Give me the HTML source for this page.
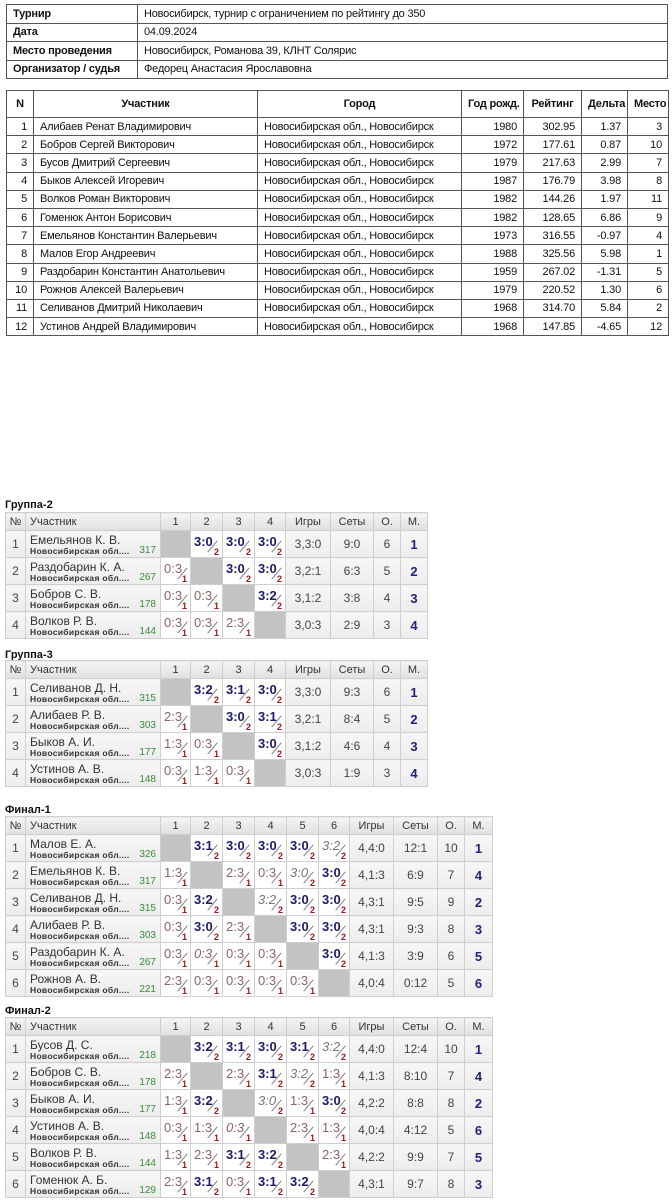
<!DOCTYPE html>
<html><head><meta charset="utf-8">
<style>
*{margin:0;padding:0;box-sizing:border-box}
body{width:672px;height:1200px;background:#fff;position:relative;font-family:"Liberation Sans",Arial,sans-serif;overflow:hidden}
table{border-collapse:collapse;table-layout:fixed;position:absolute}
.t td{border:1px solid #555;font-size:11px;color:#111;padding:0 6px;white-space:nowrap;overflow:hidden;letter-spacing:-0.2px}
.info td{height:18.5px}
.info td:first-child{font-weight:bold}
.main td{height:18.2px}
.main tr.h td{height:27px;font-weight:bold;text-align:center}
.main td.r{text-align:right}
.lbl{position:absolute;left:5px;font:bold 11px "Liberation Sans",sans-serif;color:#111}
.g td{border:1px solid #cfcfcf;height:27px;font-size:12px;color:#444;text-align:center;background:linear-gradient(#f7f7f7,#ececec);position:relative;white-space:nowrap}
.g tr.h td{height:18px;font-size:11px;color:#333;background:linear-gradient(#f4f4f4,#e0e0e0)}
.g tr.h td.u{text-align:left;padding-left:4px}
.g td.m{font-weight:bold;color:#22227a;font-size:13px}
.g td.x{background:#c3c3c3}
.g td.n{text-align:left}
.n div{position:absolute;left:4px;top:2px;font-size:12px;color:#333}
.n span{position:absolute;left:4px;bottom:1px;font-size:8.5px;font-weight:bold;color:#333;letter-spacing:0.3px}
.n em{position:absolute;right:4px;bottom:1px;font-size:10px;color:#3a8a3a;font-style:normal}
.w,.l,.wi,.li{background:#fff !important}
.w b,.l b,.wi b,.li b{position:absolute;left:3px;top:3px;font-size:13px}
.w b{color:#1c1c66;font-weight:bold}
.l b{color:#8a6666;font-weight:normal}
.wi b{color:#777;font-weight:normal;font-style:italic}
.li b{color:#8a6666;font-weight:normal;font-style:italic}
.w i,.l i,.wi i,.li i{position:absolute;right:3px;bottom:0;font-size:9px;font-weight:bold;font-style:normal;color:#a01818}
.w::after,.l::after,.wi::after,.li::after{content:"";position:absolute;left:21px;top:8px;width:1px;height:15px;background:#888;transform:rotate(40deg)}
</style></head><body>

<table class="t info" style="left:6px;top:4px;width:662px">
<colgroup><col style="width:131px"><col></colgroup>
<tr><td>Турнир</td><td>Новосибирск, турнир с ограничением по рейтингу до 350</td></tr>
<tr><td>Дата</td><td>04.09.2024</td></tr>
<tr><td>Место проведения</td><td>Новосибирск, Романова 39, КЛНТ Солярис</td></tr>
<tr><td>Организатор / судья</td><td>Федорец Анастасия Ярославовна</td></tr>
</table>

<table class="t main" style="left:6px;top:90px;width:662px">
<colgroup><col style="width:27px"><col style="width:224px"><col style="width:204px"><col style="width:62px"><col style="width:58px"><col style="width:46px"><col style="width:41px"></colgroup>
<tr class="h"><td>N</td><td>Участник</td><td>Город</td><td>Год рожд.</td><td>Рейтинг</td><td>Дельта</td><td>Место</td></tr>
<tr><td class="r">1</td><td>Алибаев Ренат Владимирович</td><td>Новосибирская обл., Новосибирск</td><td class="r">1980</td><td class="r">302.95</td><td class="r">1.37</td><td class="r">3</td></tr>
<tr><td class="r">2</td><td>Бобров Сергей Викторович</td><td>Новосибирская обл., Новосибирск</td><td class="r">1972</td><td class="r">177.61</td><td class="r">0.87</td><td class="r">10</td></tr>
<tr><td class="r">3</td><td>Бусов Дмитрий Сергеевич</td><td>Новосибирская обл., Новосибирск</td><td class="r">1979</td><td class="r">217.63</td><td class="r">2.99</td><td class="r">7</td></tr>
<tr><td class="r">4</td><td>Быков Алексей Игоревич</td><td>Новосибирская обл., Новосибирск</td><td class="r">1987</td><td class="r">176.79</td><td class="r">3.98</td><td class="r">8</td></tr>
<tr><td class="r">5</td><td>Волков Роман Викторович</td><td>Новосибирская обл., Новосибирск</td><td class="r">1982</td><td class="r">144.26</td><td class="r">1.97</td><td class="r">11</td></tr>
<tr><td class="r">6</td><td>Гоменюк Антон Борисович</td><td>Новосибирская обл., Новосибирск</td><td class="r">1982</td><td class="r">128.65</td><td class="r">6.86</td><td class="r">9</td></tr>
<tr><td class="r">7</td><td>Емельянов Константин Валерьевич</td><td>Новосибирская обл., Новосибирск</td><td class="r">1973</td><td class="r">316.55</td><td class="r">-0.97</td><td class="r">4</td></tr>
<tr><td class="r">8</td><td>Малов Егор Андреевич</td><td>Новосибирская обл., Новосибирск</td><td class="r">1988</td><td class="r">325.56</td><td class="r">5.98</td><td class="r">1</td></tr>
<tr><td class="r">9</td><td>Раздобарин Константин Анатольевич</td><td>Новосибирская обл., Новосибирск</td><td class="r">1959</td><td class="r">267.02</td><td class="r">-1.31</td><td class="r">5</td></tr>
<tr><td class="r">10</td><td>Рожнов Алексей Валерьевич</td><td>Новосибирская обл., Новосибирск</td><td class="r">1979</td><td class="r">220.52</td><td class="r">1.30</td><td class="r">6</td></tr>
<tr><td class="r">11</td><td>Селиванов Дмитрий Николаевич</td><td>Новосибирская обл., Новосибирск</td><td class="r">1968</td><td class="r">314.70</td><td class="r">5.84</td><td class="r">2</td></tr>
<tr><td class="r">12</td><td>Устинов Андрей Владимирович</td><td>Новосибирская обл., Новосибирск</td><td class="r">1968</td><td class="r">147.85</td><td class="r">-4.65</td><td class="r">12</td></tr>
</table>

<div class="lbl" style="top:499px">Группа-2</div>
<table class="g" style="left:5px;top:512px;width:422px">
<colgroup><col style="width:20px"><col style="width:135px"><col style="width:30px"><col style="width:32px"><col style="width:32px"><col style="width:31px"><col style="width:45px"><col style="width:43px"><col style="width:27px"><col style="width:27px"></colgroup>
<tr class="h"><td>№</td><td class="u">Участник</td><td>1</td><td>2</td><td>3</td><td>4</td><td>Игры</td><td>Сеты</td><td>О.</td><td>М.</td></tr>
<tr><td>1</td><td class="n"><div>Емельянов К. В.</div><span>Новосибирская обл....</span><em>317</em></td><td class="x"></td><td class="w"><b>3:0</b><i>2</i></td><td class="w"><b>3:0</b><i>2</i></td><td class="w"><b>3:0</b><i>2</i></td><td>3,3:0</td><td>9:0</td><td>6</td><td class="m">1</td></tr>
<tr><td>2</td><td class="n"><div>Раздобарин К. А.</div><span>Новосибирская обл....</span><em>267</em></td><td class="l"><b>0:3</b><i>1</i></td><td class="x"></td><td class="w"><b>3:0</b><i>2</i></td><td class="w"><b>3:0</b><i>2</i></td><td>3,2:1</td><td>6:3</td><td>5</td><td class="m">2</td></tr>
<tr><td>3</td><td class="n"><div>Бобров С. В.</div><span>Новосибирская обл....</span><em>178</em></td><td class="l"><b>0:3</b><i>1</i></td><td class="l"><b>0:3</b><i>1</i></td><td class="x"></td><td class="w"><b>3:2</b><i>2</i></td><td>3,1:2</td><td>3:8</td><td>4</td><td class="m">3</td></tr>
<tr><td>4</td><td class="n"><div>Волков Р. В.</div><span>Новосибирская обл....</span><em>144</em></td><td class="l"><b>0:3</b><i>1</i></td><td class="l"><b>0:3</b><i>1</i></td><td class="l"><b>2:3</b><i>1</i></td><td class="x"></td><td>3,0:3</td><td>2:9</td><td>3</td><td class="m">4</td></tr>
</table>

<div class="lbl" style="top:649px">Группа-3</div>
<table class="g" style="left:5px;top:660px;width:422px">
<colgroup><col style="width:20px"><col style="width:135px"><col style="width:30px"><col style="width:32px"><col style="width:32px"><col style="width:31px"><col style="width:45px"><col style="width:43px"><col style="width:27px"><col style="width:27px"></colgroup>
<tr class="h"><td>№</td><td class="u">Участник</td><td>1</td><td>2</td><td>3</td><td>4</td><td>Игры</td><td>Сеты</td><td>О.</td><td>М.</td></tr>
<tr><td>1</td><td class="n"><div>Селиванов Д. Н.</div><span>Новосибирская обл....</span><em>315</em></td><td class="x"></td><td class="w"><b>3:2</b><i>2</i></td><td class="w"><b>3:1</b><i>2</i></td><td class="w"><b>3:0</b><i>2</i></td><td>3,3:0</td><td>9:3</td><td>6</td><td class="m">1</td></tr>
<tr><td>2</td><td class="n"><div>Алибаев Р. В.</div><span>Новосибирская обл....</span><em>303</em></td><td class="l"><b>2:3</b><i>1</i></td><td class="x"></td><td class="w"><b>3:0</b><i>2</i></td><td class="w"><b>3:1</b><i>2</i></td><td>3,2:1</td><td>8:4</td><td>5</td><td class="m">2</td></tr>
<tr><td>3</td><td class="n"><div>Быков А. И.</div><span>Новосибирская обл....</span><em>177</em></td><td class="l"><b>1:3</b><i>1</i></td><td class="l"><b>0:3</b><i>1</i></td><td class="x"></td><td class="w"><b>3:0</b><i>2</i></td><td>3,1:2</td><td>4:6</td><td>4</td><td class="m">3</td></tr>
<tr><td>4</td><td class="n"><div>Устинов А. В.</div><span>Новосибирская обл....</span><em>148</em></td><td class="l"><b>0:3</b><i>1</i></td><td class="l"><b>1:3</b><i>1</i></td><td class="l"><b>0:3</b><i>1</i></td><td class="x"></td><td>3,0:3</td><td>1:9</td><td>3</td><td class="m">4</td></tr>
</table>

<div class="lbl" style="top:804px">Финал-1</div>
<table class="g" style="left:5px;top:816px;width:487px">
<colgroup><col style="width:20px"><col style="width:135px"><col style="width:30px"><col style="width:32px"><col style="width:32px"><col style="width:32px"><col style="width:32px"><col style="width:31px"><col style="width:44px"><col style="width:44px"><col style="width:27px"><col style="width:28px"></colgroup>
<tr class="h"><td>№</td><td class="u">Участник</td><td>1</td><td>2</td><td>3</td><td>4</td><td>5</td><td>6</td><td>Игры</td><td>Сеты</td><td>О.</td><td>М.</td></tr>
<tr><td>1</td><td class="n"><div>Малов Е. А.</div><span>Новосибирская обл....</span><em>326</em></td><td class="x"></td><td class="w"><b>3:1</b><i>2</i></td><td class="w"><b>3:0</b><i>2</i></td><td class="w"><b>3:0</b><i>2</i></td><td class="w"><b>3:0</b><i>2</i></td><td class="wi"><b>3:2</b><i>2</i></td><td>4,4:0</td><td>12:1</td><td>10</td><td class="m">1</td></tr>
<tr><td>2</td><td class="n"><div>Емельянов К. В.</div><span>Новосибирская обл....</span><em>317</em></td><td class="l"><b>1:3</b><i>1</i></td><td class="x"></td><td class="l"><b>2:3</b><i>1</i></td><td class="l"><b>0:3</b><i>1</i></td><td class="wi"><b>3:0</b><i>2</i></td><td class="w"><b>3:0</b><i>2</i></td><td>4,1:3</td><td>6:9</td><td>7</td><td class="m">4</td></tr>
<tr><td>3</td><td class="n"><div>Селиванов Д. Н.</div><span>Новосибирская обл....</span><em>315</em></td><td class="l"><b>0:3</b><i>1</i></td><td class="w"><b>3:2</b><i>2</i></td><td class="x"></td><td class="wi"><b>3:2</b><i>2</i></td><td class="w"><b>3:0</b><i>2</i></td><td class="w"><b>3:0</b><i>2</i></td><td>4,3:1</td><td>9:5</td><td>9</td><td class="m">2</td></tr>
<tr><td>4</td><td class="n"><div>Алибаев Р. В.</div><span>Новосибирская обл....</span><em>303</em></td><td class="l"><b>0:3</b><i>1</i></td><td class="w"><b>3:0</b><i>2</i></td><td class="l"><b>2:3</b><i>1</i></td><td class="x"></td><td class="w"><b>3:0</b><i>2</i></td><td class="w"><b>3:0</b><i>2</i></td><td>4,3:1</td><td>9:3</td><td>8</td><td class="m">3</td></tr>
<tr><td>5</td><td class="n"><div>Раздобарин К. А.</div><span>Новосибирская обл....</span><em>267</em></td><td class="l"><b>0:3</b><i>1</i></td><td class="li"><b>0:3</b><i>1</i></td><td class="l"><b>0:3</b><i>1</i></td><td class="l"><b>0:3</b><i>1</i></td><td class="x"></td><td class="w"><b>3:0</b><i>2</i></td><td>4,1:3</td><td>3:9</td><td>6</td><td class="m">5</td></tr>
<tr><td>6</td><td class="n"><div>Рожнов А. В.</div><span>Новосибирская обл....</span><em>221</em></td><td class="l"><b>2:3</b><i>1</i></td><td class="l"><b>0:3</b><i>1</i></td><td class="l"><b>0:3</b><i>1</i></td><td class="l"><b>0:3</b><i>1</i></td><td class="l"><b>0:3</b><i>1</i></td><td class="x"></td><td>4,0:4</td><td>0:12</td><td>5</td><td class="m">6</td></tr>
</table>

<div class="lbl" style="top:1005px">Финал-2</div>
<table class="g" style="left:5px;top:1017px;width:487px">
<colgroup><col style="width:20px"><col style="width:135px"><col style="width:30px"><col style="width:32px"><col style="width:32px"><col style="width:32px"><col style="width:32px"><col style="width:31px"><col style="width:44px"><col style="width:44px"><col style="width:27px"><col style="width:28px"></colgroup>
<tr class="h"><td>№</td><td class="u">Участник</td><td>1</td><td>2</td><td>3</td><td>4</td><td>5</td><td>6</td><td>Игры</td><td>Сеты</td><td>О.</td><td>М.</td></tr>
<tr><td>1</td><td class="n"><div>Бусов Д. С.</div><span>Новосибирская обл....</span><em>218</em></td><td class="x"></td><td class="w"><b>3:2</b><i>2</i></td><td class="w"><b>3:1</b><i>2</i></td><td class="w"><b>3:0</b><i>2</i></td><td class="w"><b>3:1</b><i>2</i></td><td class="wi"><b>3:2</b><i>2</i></td><td>4,4:0</td><td>12:4</td><td>10</td><td class="m">1</td></tr>
<tr><td>2</td><td class="n"><div>Бобров С. В.</div><span>Новосибирская обл....</span><em>178</em></td><td class="l"><b>2:3</b><i>1</i></td><td class="x"></td><td class="l"><b>2:3</b><i>1</i></td><td class="w"><b>3:1</b><i>2</i></td><td class="wi"><b>3:2</b><i>2</i></td><td class="l"><b>1:3</b><i>1</i></td><td>4,1:3</td><td>8:10</td><td>7</td><td class="m">4</td></tr>
<tr><td>3</td><td class="n"><div>Быков А. И.</div><span>Новосибирская обл....</span><em>177</em></td><td class="l"><b>1:3</b><i>1</i></td><td class="w"><b>3:2</b><i>2</i></td><td class="x"></td><td class="wi"><b>3:0</b><i>2</i></td><td class="l"><b>1:3</b><i>1</i></td><td class="w"><b>3:0</b><i>2</i></td><td>4,2:2</td><td>8:8</td><td>8</td><td class="m">2</td></tr>
<tr><td>4</td><td class="n"><div>Устинов А. В.</div><span>Новосибирская обл....</span><em>148</em></td><td class="l"><b>0:3</b><i>1</i></td><td class="l"><b>1:3</b><i>1</i></td><td class="li"><b>0:3</b><i>1</i></td><td class="x"></td><td class="l"><b>2:3</b><i>1</i></td><td class="l"><b>1:3</b><i>1</i></td><td>4,0:4</td><td>4:12</td><td>5</td><td class="m">6</td></tr>
<tr><td>5</td><td class="n"><div>Волков Р. В.</div><span>Новосибирская обл....</span><em>144</em></td><td class="l"><b>1:3</b><i>1</i></td><td class="l"><b>2:3</b><i>1</i></td><td class="w"><b>3:1</b><i>2</i></td><td class="w"><b>3:2</b><i>2</i></td><td class="x"></td><td class="l"><b>2:3</b><i>1</i></td><td>4,2:2</td><td>9:9</td><td>7</td><td class="m">5</td></tr>
<tr><td>6</td><td class="n"><div>Гоменюк А. Б.</div><span>Новосибирская обл....</span><em>129</em></td><td class="l"><b>2:3</b><i>1</i></td><td class="w"><b>3:1</b><i>2</i></td><td class="l"><b>0:3</b><i>1</i></td><td class="w"><b>3:1</b><i>2</i></td><td class="w"><b>3:2</b><i>2</i></td><td class="x"></td><td>4,3:1</td><td>9:7</td><td>8</td><td class="m">3</td></tr>
</table>
</body></html>
